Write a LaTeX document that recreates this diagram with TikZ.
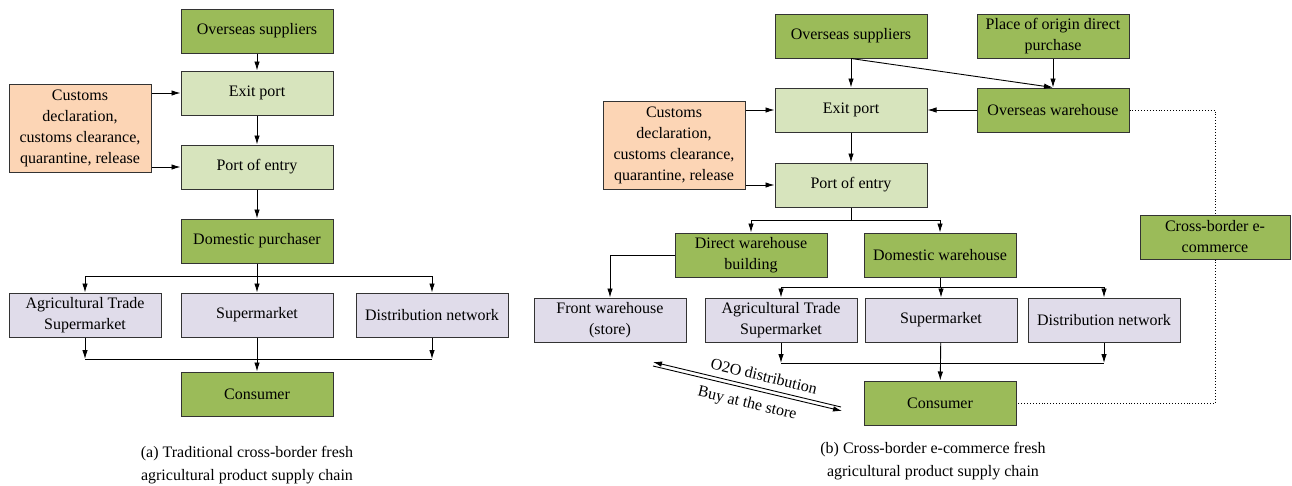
\documentclass[tikz,border=0pt]{standalone}
\usepackage{fontspec}
\setmainfont{Liberation Serif}
\usetikzlibrary{arrows.meta}

\definecolor{darkgreen}{HTML}{9BBB59}
\definecolor{lightgreen}{HTML}{D7E4BD}
\definecolor{peach}{HTML}{FCD5B5}
\definecolor{lavender}{HTML}{E0DCEA}

\begin{document}
\begin{tikzpicture}[x=1pt, y=-1pt,
    every node/.style={font=\fontsize{16}{21}\selectfont},
    box/.style={draw=black!80, line width=1pt, minimum width=152pt, minimum height=44pt, inner sep=1pt, align=center},
    darkbox/.style={box, fill=darkgreen},
    lightbox/.style={box, fill=lightgreen},
    custbox/.style={box, fill=peach, minimum width=142pt, minimum height=88pt},
    shopbox/.style={box, fill=lavender},
    caption/.style={align=center, font=\fontsize{16}{23}\selectfont},
    slant/.style={rotate=-13.5, inner sep=0pt},
    arr/.style={-{Latex[length=9pt,width=5.5pt]}, line width=0.9pt},
    link/.style={line width=0.9pt},
    dots/.style={dotted, line width=0.9pt}
  ]
  \useasboundingbox (0,0) rectangle (1292,485);

  % (a) traditional chain
  \node[darkbox] (a_sup) at (257,31) {Overseas suppliers};
  \node[lightbox] (a_exit) at (257,93) {Exit port};
  \node[lightbox] (a_entry) at (257,167) {Port of entry};
  \node[custbox] (a_cust) at (80,128) {Customs\\declaration,\\customs clearance,\\quarantine, release};
  \node[darkbox] (a_dom) at (257,241) {Domestic purchaser};
  \node[shopbox] (a_ats) at (85,315) {Agricultural Trade\\Supermarket};
  \node[shopbox] (a_sm) at (257,315) {Supermarket};
  \node[shopbox] (a_dn) at (432,315) {Distribution network};
  \node[darkbox] (a_con) at (257,394) {Consumer};
  \node[caption] (a_cap) at (247,465) {(a) Traditional cross-border fresh\\agricultural product supply chain};

  \coordinate (a_br) at (257,276);
  \coordinate (a_mg) at (257,359);

  \draw[arr] (a_sup) -- (a_exit);
  \draw[arr] (a_exit) -- (a_entry);
  \draw[arr] (a_entry) -- (a_dom);
  \draw[arr] (a_cust.east |- a_exit) -- (a_exit.west);
  \draw[arr] (a_cust.east |- a_entry) -- (a_entry.west);
  \draw[arr] (a_dom) -- (a_sm);
  \draw[arr] (a_br) -| (a_ats.north);
  \draw[arr] (a_br) -| (a_dn.north);
  \draw[arr] (a_ats.south) -- (a_ats.south |- a_mg);
  \draw[arr] (a_dn.south) -- (a_dn.south |- a_mg);
  \draw[link] (a_ats.south |- a_mg) -- (a_dn.south |- a_mg);
  \draw[arr] (a_sm) -- (a_con);

  % (b) cross-border e-commerce chain
  \node[darkbox] (b_sup) at (851,36) {Overseas suppliers};
  \node[darkbox] (b_orig) at (1053,36) {Place of origin direct\\purchase};
  \node[lightbox] (b_exit) at (851,110) {Exit port};
  \node[darkbox] (b_ow) at (1053,110) {Overseas warehouse};
  \node[custbox] (b_cust) at (674,145) {Customs\\declaration,\\customs clearance,\\quarantine, release};
  \node[lightbox] (b_entry) at (851,185) {Port of entry};
  \node[darkbox] (b_dwb) at (751,255) {Direct warehouse\\building};
  \node[darkbox] (b_dw) at (940,255) {Domestic warehouse};
  \node[darkbox, minimum width=150pt] (b_cbe) at (1215,237) {Cross-border e-\\commerce};
  \node[shopbox] (b_front) at (610,320) {Front warehouse\\(store)};
  \node[shopbox] (b_ats) at (781,320) {Agricultural Trade\\Supermarket};
  \node[shopbox] (b_sm) at (941,320) {Supermarket};
  \node[shopbox] (b_dn) at (1104,320) {Distribution network};
  \node[darkbox] (b_con) at (940,403) {Consumer};
  \node[caption] (b_cap) at (933,461) {(b) Cross-border e-commerce fresh\\agricultural product supply chain};

  \coordinate (b_br) at (851,220);
  \coordinate (b_br2) at (940,287);
  \coordinate (b_mg) at (940,363);
  \coordinate (o2o_l) at (653,362);
  \coordinate (o2o_r) at (841,407);
  \coordinate (buy_l) at (653,366);
  \coordinate (buy_r) at (842,411);

  \draw[arr] (b_sup) -- (b_exit);
  \draw[arr] (b_sup.south) -- (b_ow.north);
  \draw[arr] (b_orig) -- (b_ow);
  \draw[arr] (b_ow) -- (b_exit);
  \draw[arr] (b_exit) -- (b_entry);
  \draw[arr] (b_cust.east |- b_exit) -- (b_exit.west);
  \draw[arr] (b_cust.east |- b_entry) -- (b_entry.west);
  \draw[link] (b_entry.south) -- (b_br);
  \draw[arr] (b_br) -| (b_dwb.north);
  \draw[arr] (b_br) -| (b_dw.north);
  \draw[arr] (b_dwb.west) -| (b_front.north);
  \draw[link] (b_dw.south) -- (b_br2);
  \draw[arr] (b_br2) -| (b_ats.north);
  \draw[arr] (b_br2) -| (b_sm.north);
  \draw[arr] (b_br2) -| (b_dn.north);
  \draw[arr] (b_ats.south) -- (b_ats.south |- b_mg);
  \draw[arr] (b_dn.south) -- (b_dn.south |- b_mg);
  \draw[link] (b_ats.south |- b_mg) -- (b_dn.south |- b_mg);
  \draw[arr] (b_sm) -- (b_con);
  \draw[dots] (b_ow.east) -| (b_cbe.north);
  \draw[dots] (b_cbe.south) |- (b_con.east);

  % O2O double arrow
  \draw[arr] (o2o_r) -- (o2o_l);
  \draw[arr] (buy_l) -- (buy_r);
  \node[slant] (o2o_txt) at (764,376) {O2O distribution};
  \node[slant] (buy_txt) at (747,404) {Buy at the store};
\end{tikzpicture}
\end{document}
